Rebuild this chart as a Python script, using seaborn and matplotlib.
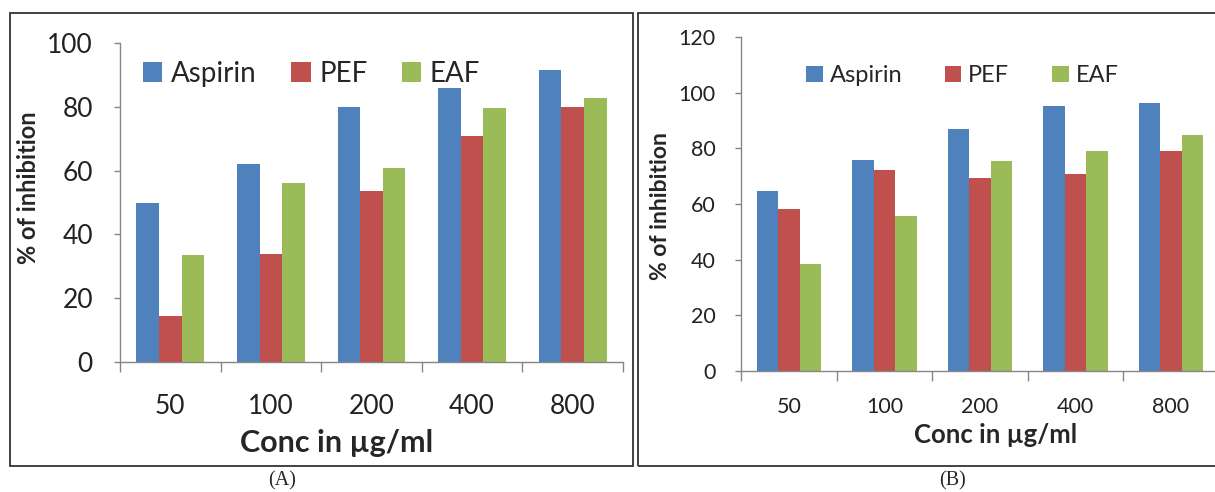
import numpy as np
import pandas as pd
import seaborn as sns
import matplotlib.pyplot as plt
from matplotlib.patches import Rectangle
from matplotlib.ticker import FixedLocator

# dados
conc = ["50", "100", "200", "400", "800"]
groups = ["Aspirin", "PEF", "EAF"]
aspirin_a = [50.0, 62.1, 80.0, 85.8, 91.4]
pef_a = [14.3, 33.9, 53.7, 70.7, 80.0]
eaf_a = [33.4, 56.0, 60.7, 79.7, 82.9]
aspirin_b = [64.8, 76.0, 87.0, 95.3, 96.4]
pef_b = [58.3, 72.3, 69.5, 70.9, 79.2]
eaf_b = [38.4, 55.6, 75.5, 79.2, 84.7]
colors = ["#4F81BD", "#C0504D", "#9BBB59"]


def long_table(a, p, e):
    return pd.DataFrame({
        "conc": conc * 3,
        "group": np.repeat(groups, len(conc)),
        "value": a + p + e,
    })


sns.set_style("white")
plt.rcParams["font.family"] = ["Lato", "DejaVu Sans"]

W, H = 1215, 492
fig = plt.figure(figsize=(W / 100, H / 100), dpi=100)


def px_axes(l, t, r, b):
    return fig.add_axes([l / W, 1 - b / H, (r - l) / W, (b - t) / H])


def draw_panel(ax, df, ymax, tick_fs, ylab_fs, xlab_fs, leg_fs,
               ylab_x, ylab_y, xlab_x, xlab_y, leg_x, leg_y, colspace,
               xpad, ypad):
    sns.barplot(data=df, x="conc", y="value", hue="group", order=conc,
                hue_order=groups, palette=colors, width=0.672, gap=0,
                saturation=1, linewidth=0, errorbar=None, ax=ax)
    ax.set_ylim(0, ymax)
    ax.set_yticks(range(0, ymax + 1, 20))
    ax.set_xlim(-0.5, len(conc) - 0.5)
    for s in ["top", "right"]:
        ax.spines[s].set_visible(False)
    for s in ["left", "bottom"]:
        ax.spines[s].set_color("#868686")
        ax.spines[s].set_linewidth(1.0)
    ax.tick_params(axis="y", length=4.5, width=1, color="#868686",
                   labelsize=tick_fs, pad=ypad, labelcolor="#222222", left=True)
    ax.tick_params(axis="x", which="major", length=0, labelsize=tick_fs,
                   pad=xpad, labelcolor="#222222")
    ax.xaxis.set_minor_locator(FixedLocator(np.arange(-0.5, len(conc), 1)))
    ax.tick_params(axis="x", which="minor", length=7.5, width=1,
                   color="#868686", bottom=True)
    ax.set_ylabel("% of inhibition", fontsize=ylab_fs, fontweight="bold")
    ax.yaxis.label.set_va("center")
    ax.yaxis.set_label_coords(ylab_x, ylab_y)
    ax.set_xlabel("Conc in µg/ml", fontsize=xlab_fs, fontweight="bold")
    ax.xaxis.label.set_va("center")
    ax.xaxis.set_label_coords(xlab_x, xlab_y)
    handles, labels = ax.get_legend_handles_labels()
    ax.legend(handles, labels, loc="center left", bbox_to_anchor=(leg_x, leg_y),
              ncol=3, frameon=False, borderpad=0, borderaxespad=0,
              handlelength=0.7, handleheight=0.7, handletextpad=0.3,
              columnspacing=colspace, fontsize=leg_fs)


ax_a = px_axes(120, 43, 623, 362)
ax_b = px_axes(741.3, 37.3, 1218.8, 370.7)

draw_panel(ax_a, long_table(aspirin_a, pef_a, eaf_a), 100,
           tick_fs=19, ylab_fs=17, xlab_fs=22, leg_fs=20,
           ylab_x=-0.181, ylab_y=0.547, xlab_x=0.431, xlab_y=-0.254,
           leg_x=0.0457, leg_y=0.904, colspace=1.25, xpad=23, ypad=15)
draw_panel(ax_b, long_table(aspirin_b, pef_b, eaf_b), 120,
           tick_fs=15.5, ylab_fs=16.5, xlab_fs=18.5, leg_fs=17,
           ylab_x=-0.170, ylab_y=0.495, xlab_x=0.532, xlab_y=-0.193,
           leg_x=0.1355, leg_y=0.885, colspace=1.8, xpad=19, ypad=14)

# molduras das duas figuras
fig.add_artist(Rectangle((10.5 / W, 1 - 466 / H), (633 - 10.5) / W, (466 - 12.5) / H,
                         transform=fig.transFigure, fill=False, ec="#333333", lw=1.3))
fig.add_artist(Rectangle((638 / W, 1 - 466 / H), (1225 - 638) / W, (466 - 12.5) / H,
                         transform=fig.transFigure, fill=False, ec="#333333", lw=1.3))

fig.text(282 / W, 1 - 481 / H, "(A)", ha="center", va="center", fontsize=14.5,
         family=["Liberation Serif", "DejaVu Serif"])
fig.text(952 / W, 1 - 481 / H, "(B)", ha="center", va="center", fontsize=14.5,
         family=["Liberation Serif", "DejaVu Serif"])

fig.savefig("out.png", dpi=100)
